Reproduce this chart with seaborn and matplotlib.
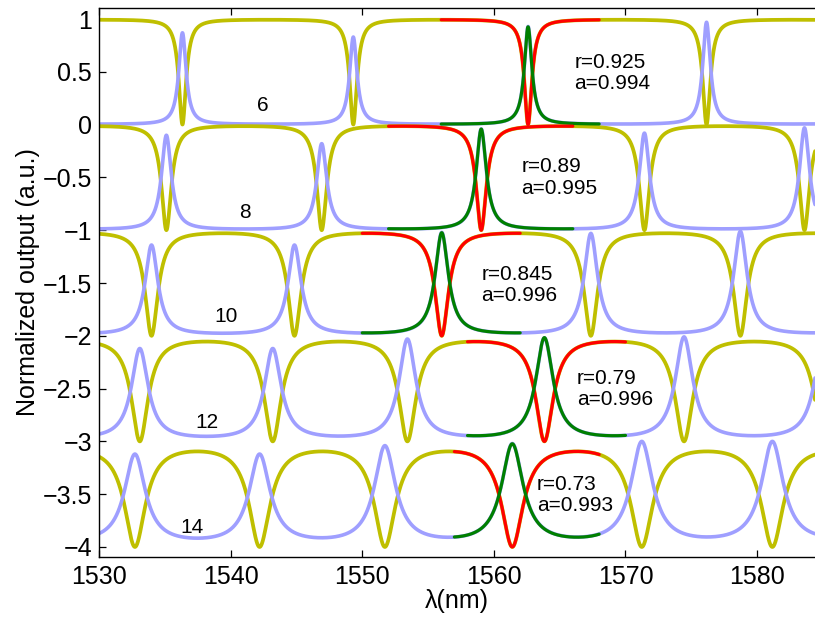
import numpy as np
import matplotlib
matplotlib.use("Agg")
import matplotlib.pyplot as plt
import seaborn as sns

# Ring labels shown next to each stacked pair of spectra
ring_labels = ["6", "8", "10", "12", "14"]

# Resonance wavelengths (nm) of each ring inside the scan window
res_6 = [1536.34, 1549.32, 1562.60, 1576.16]
res_8 = [1535.12, 1546.92, 1559.04, 1571.44, 1583.60]
res_10 = [1533.99, 1544.85, 1556.04, 1567.37, 1578.73]
res_12 = [1533.10, 1543.20, 1553.43, 1563.84, 1574.45]
res_14 = [1532.73, 1542.20, 1551.72, 1561.40, 1571.24, 1581.16]

# Measured drop-port peak height at each resonance
peak_6 = [0.87, 0.83, 0.93, 0.97]
peak_8 = [0.90, 0.82, 0.96, 0.92, 0.97]
peak_10 = [0.86, 0.86, 0.98, 0.97, 0.99]
peak_12 = [0.88, 0.88, 0.97, 0.98, 0.99]
peak_14 = [0.88, 0.88, 0.96, 0.98, 1.00, 1.00]

# Fitted self-coupling coefficient r and single-pass amplitude a
fit_r = [0.925, 0.89, 0.845, 0.79, 0.73]
fit_a = [0.994, 0.995, 0.996, 0.996, 0.993]

# Wavelength span (nm) covered by each fit
fit_start = [1556.0, 1552.0, 1550.0, 1558.0, 1557.0]
fit_stop = [1568.0, 1566.0, 1562.0, 1570.0, 1568.0]

# Vertical shift applied to each ring's spectra
offsets = [0, -1, -2, -3, -4]

resonances = [res_6, res_8, res_10, res_12, res_14]
peaks = [peak_6, peak_8, peak_10, peak_12, peak_14]

x_ticks = [1530, 1540, 1550, 1560, 1570, 1580]
y_ticks = [1, 0.5, 0, -0.5, -1, -1.5, -2, -2.5, -3, -3.5, -4]

# Layout of the text labels (data coordinates)
ring_label_xy = [(1542.45, 0.185), (1541.06, -0.83), (1539.67, -1.82),
                 (1538.2, -2.82), (1537.1, -3.82)]
fit_label_xy = [(1566.1, 0.49), (1562.1, -0.50), (1559.05, -1.52),
                (1566.3, -2.505), (1563.25, -3.51)]

through_color = "#bfbf00"
drop_color = "#9f9fff"
through_fit_color = "#ff0000"
drop_fit_color = "#008000"


def round_trip_phase(lam, res):
    """Round-trip phase from the resonance positions (2*pi per FSR)."""
    res = np.asarray(res)
    order = np.arange(len(res), dtype=float)
    m = np.interp(lam, res, order)
    lo = lam < res[0]
    hi = lam > res[-1]
    m[lo] = (lam[lo] - res[0]) / (res[1] - res[0])
    m[hi] = order[-1] + (lam[hi] - res[-1]) / (res[-1] - res[-2])
    return 2 * np.pi * m


def add_drop(phi, r, a):
    """Through and drop transmission of a symmetric add-drop ring."""
    c = np.cos(phi)
    den = 1 - 2 * r * r * a * c + (r * r * a) ** 2
    through = (r * r * a * a - 2 * r * r * a * c + r * r) / den
    drop = (1 - r * r) ** 2 * a / den
    return through, drop


sns.set_theme(style="ticks")
plt.rcParams["font.family"] = ["Liberation Sans", "DejaVu Sans"]
plt.rcParams["axes.unicode_minus"] = True

fig = plt.figure(figsize=(8.15, 6.18), dpi=100)
ax = fig.add_axes([99 / 815, 1 - 557 / 618, 716 / 815, 549 / 618])

lam = np.linspace(1530, 1584.6, 5000)

# measured spectra
for k in range(5):
    r, a = fit_r[k], fit_a[k]
    phi = round_trip_phase(lam, resonances[k])
    thr, drp = add_drop(phi, r, a)
    dmax = (1 - r * r) ** 2 * a / (1 - r * r * a) ** 2
    scale = np.interp(lam, resonances[k], peaks[k]) / dmax
    sns.lineplot(x=lam, y=thr + offsets[k], ax=ax, color=through_color,
                 lw=2.7, sort=False, estimator=None)
    sns.lineplot(x=lam, y=drp * scale + offsets[k], ax=ax, color=drop_color,
                 lw=2.6, sort=False, estimator=None)

# fits
for k in range(5):
    r, a = fit_r[k], fit_a[k]
    lf = np.linspace(fit_start[k], fit_stop[k], 1500)
    phi = round_trip_phase(lf, resonances[k])
    thr, drp = add_drop(phi, r, a)
    sns.lineplot(x=lf, y=thr + offsets[k], ax=ax, color=through_fit_color,
                 lw=2.3, sort=False, estimator=None)
    sns.lineplot(x=lf, y=drp + offsets[k], ax=ax, color=drop_fit_color,
                 lw=2.3, sort=False, estimator=None)

for k in range(5):
    lx, ly = ring_label_xy[k]
    ax.text(lx, ly, ring_labels[k], ha="center", va="center", fontsize=15,
            color="black")
    fx, fy = fit_label_xy[k]
    ax.text(fx, fy, f"r={fit_r[k]:g}\na={fit_a[k]:g}", ha="left",
            va="center", fontsize=15, color="black", linespacing=1.15)

ax.set_xlim(1530, 1584.4)
ax.set_ylim(-4.095, 1.105)
ax.set_xticks(x_ticks)
ax.set_xticklabels([str(v) for v in x_ticks])
ax.set_yticks(y_ticks)
ax.set_yticklabels([f"{v:g}".replace("-", "\u2212") for v in y_ticks])
ax.tick_params(axis="both", direction="in", length=5, width=0.9,
               labelsize=18, color="black", labelcolor="black")
ax.tick_params(axis="x", top=True, pad=6)
ax.tick_params(axis="y", pad=5)

for side in ["left", "bottom", "top"]:
    ax.spines[side].set_visible(True)
    ax.spines[side].set_color("black")
    ax.spines[side].set_linewidth(1.0)
ax.spines["right"].set_visible(False)

ax.set_xlabel("\u03bb(nm)", fontsize=18, color="black", labelpad=0)
ax.set_ylabel("Normalized output (a.u.)", fontsize=18, color="black")
ax.yaxis.set_label_coords(-0.082, 0.5)
ax.set_facecolor("white")
fig.patch.set_facecolor("white")

fig.savefig("out.png", dpi=100)
